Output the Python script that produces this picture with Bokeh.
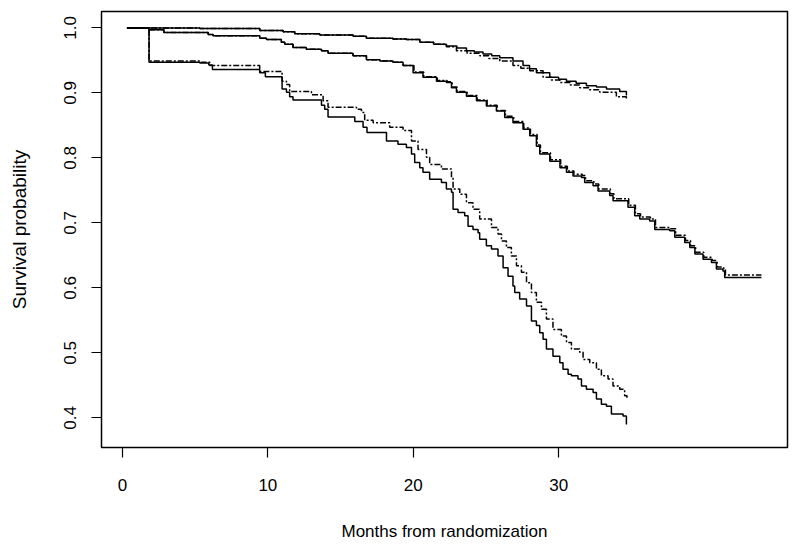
from bokeh.plotting import figure
from bokeh.models import Range1d, FixedTicker, NumeralTickFormatter
from bokeh.embed import file_html
from bokeh.resources import INLINE

# ---- data (months, survival probability) : step points ----
top_solid_t = [0.31, 5.32, 9.44, 11.05, 11.85, 13.57, 15.86, 16.78, 18.6, 19.53, 20.45, 21.4, 22.28, 23.0, 23.66, 24.2, 24.80, 25.4, 25.95, 26.86, 27.55, 28.0, 28.47, 29.39, 30.0, 30.54, 31.2, 31.91, 32.6, 33.29, 34.2, 34.66]
top_solid_s = [1.000, 0.999, 0.996, 0.994, 0.991, 0.989, 0.987, 0.984, 0.983, 0.982, 0.978, 0.975, 0.972, 0.969, 0.965, 0.963, 0.960, 0.957, 0.954, 0.949, 0.942, 0.937, 0.931, 0.924, 0.921, 0.918, 0.915, 0.911, 0.909, 0.906, 0.902, 0.896]

top_dash_t = [0.31, 5.32, 9.44, 11.05, 11.85, 13.57, 15.86, 16.78, 18.6, 19.53, 20.45, 21.4, 22.28, 22.97, 23.7, 24.57, 25.2, 25.95, 26.86, 27.4, 28.01, 28.93, 29.5, 30.08, 30.8, 31.45, 32.1, 32.83, 33.97, 34.66]
top_dash_s = [1.000, 0.999, 0.996, 0.994, 0.991, 0.989, 0.987, 0.984, 0.983, 0.982, 0.978, 0.975, 0.971, 0.965, 0.961, 0.957, 0.953, 0.949, 0.942, 0.938, 0.934, 0.924, 0.920, 0.916, 0.912, 0.908, 0.905, 0.901, 0.894, 0.889]

mid_solid_t = [0.31, 1.83, 2.85, 5.9, 6.23, 9.44, 9.9, 10.93, 11.16, 11.73, 12.65, 13.69, 14.14, 15.86, 16.78, 17.7, 18.61, 19.3, 19.99, 20.67, 21.6, 22.28, 22.63, 22.97, 23.66, 24.35, 25.03, 25.72, 26.29, 26.86, 27.55, 28.01, 28.47, 28.7, 29.39, 30.09, 30.54, 30.99, 31.57, 31.79, 32.37, 32.71, 33.51, 33.74, 34.77, 35.23, 35.58, 36.26, 36.61, 37.64, 37.99, 38.67, 39.02, 39.37, 39.93, 40.51, 40.85, 41.3, 41.42, 43.95]
mid_solid_s = [1.000, 0.997, 0.993, 0.990, 0.988, 0.984, 0.982, 0.978, 0.975, 0.970, 0.967, 0.965, 0.961, 0.957, 0.951, 0.949, 0.947, 0.942, 0.931, 0.924, 0.918, 0.916, 0.908, 0.901, 0.895, 0.888, 0.880, 0.872, 0.862, 0.854, 0.844, 0.834, 0.818, 0.806, 0.795, 0.785, 0.778, 0.772, 0.770, 0.762, 0.757, 0.749, 0.742, 0.734, 0.724, 0.711, 0.706, 0.703, 0.690, 0.688, 0.678, 0.670, 0.662, 0.652, 0.644, 0.639, 0.629, 0.626, 0.616, 0.616]

mid_dash_t = [0.31, 1.83, 2.85, 5.9, 6.23, 9.44, 9.9, 10.93, 11.16, 11.73, 12.65, 13.69, 14.14, 15.86, 16.78, 17.7, 18.61, 19.3, 20.05, 20.72, 21.65, 22.33, 22.68, 23.02, 23.71, 24.4, 25.08, 25.77, 26.34, 26.91, 27.6, 28.06, 28.52, 28.75, 29.44, 30.14, 30.6, 31.05, 31.62, 31.85, 32.42, 32.76, 33.56, 33.8, 34.82, 35.28, 35.63, 36.31, 36.66, 37.7, 38.05, 38.72, 39.07, 39.42, 39.98, 40.56, 40.9, 41.35, 41.47, 43.95]
mid_dash_s = [1.000, 0.997, 0.993, 0.990, 0.988, 0.984, 0.982, 0.978, 0.975, 0.970, 0.967, 0.965, 0.961, 0.957, 0.951, 0.949, 0.947, 0.942, 0.932, 0.925, 0.919, 0.917, 0.909, 0.902, 0.896, 0.889, 0.881, 0.873, 0.864, 0.856, 0.846, 0.836, 0.820, 0.808, 0.797, 0.787, 0.780, 0.775, 0.773, 0.765, 0.760, 0.752, 0.745, 0.737, 0.727, 0.714, 0.709, 0.706, 0.693, 0.691, 0.681, 0.673, 0.665, 0.655, 0.647, 0.642, 0.632, 0.630, 0.620, 0.620]

bot_solid_t = [0.31, 1.83, 5.32, 5.94, 6.19, 9.44, 9.83, 10.98, 11.28, 11.5, 11.73, 13.69, 13.91, 14.14, 15.98, 16.55, 16.82, 18.16, 18.95, 19.53, 19.88, 20.10, 20.45, 20.67, 21.13, 21.94, 22.28, 22.63, 22.74, 23.08, 23.54, 23.77, 24.11, 24.46, 24.57, 25.03, 25.38, 25.83, 26.18, 26.52, 26.86, 26.98, 27.32, 27.79, 28.13, 28.47, 28.70, 28.93, 29.16, 29.61, 30.08, 30.30, 30.65, 30.88, 31.33, 31.57, 31.91, 32.37, 32.60, 32.94, 33.29, 33.63, 34.43, 34.66]
bot_solid_s = [1.000, 0.947, 0.946, 0.943, 0.936, 0.931, 0.925, 0.906, 0.901, 0.894, 0.889, 0.881, 0.875, 0.863, 0.856, 0.847, 0.839, 0.826, 0.821, 0.816, 0.806, 0.793, 0.785, 0.778, 0.767, 0.762, 0.752, 0.747, 0.721, 0.716, 0.711, 0.695, 0.690, 0.685, 0.675, 0.665, 0.660, 0.649, 0.631, 0.618, 0.603, 0.593, 0.583, 0.572, 0.549, 0.542, 0.531, 0.521, 0.506, 0.495, 0.485, 0.475, 0.467, 0.465, 0.460, 0.449, 0.444, 0.439, 0.429, 0.421, 0.418, 0.406, 0.403, 0.390]

bot_dash_t = [0.31, 1.83, 5.43, 6.0, 9.44, 10.98, 11.28, 11.5, 13.0, 13.8, 14.14, 16.09, 16.44, 16.66, 17.24, 18.38, 19.3, 19.88, 20.33, 20.91, 21.13, 21.94, 22.63, 22.74, 23.2, 23.66, 24.11, 24.57, 25.38, 25.83, 26.07, 26.41, 26.75, 27.1, 27.44, 27.79, 28.13, 28.47, 28.82, 29.16, 29.61, 30.19, 30.54, 30.88, 31.45, 31.68, 32.14, 32.6, 32.94, 33.4, 33.74, 34.2, 34.54, 34.7]
bot_dash_s = [1.000, 0.949, 0.947, 0.942, 0.933, 0.918, 0.913, 0.902, 0.897, 0.888, 0.878, 0.875, 0.870, 0.858, 0.854, 0.847, 0.842, 0.826, 0.813, 0.801, 0.790, 0.783, 0.770, 0.752, 0.744, 0.731, 0.721, 0.706, 0.693, 0.683, 0.672, 0.662, 0.649, 0.634, 0.624, 0.608, 0.593, 0.578, 0.567, 0.552, 0.536, 0.526, 0.516, 0.506, 0.501, 0.490, 0.485, 0.475, 0.465, 0.460, 0.449, 0.444, 0.434, 0.428]

x_ticks = [0, 10, 20, 30]
y_ticks = [0.4, 0.5, 0.6, 0.7, 0.8, 0.9, 1.0]

FONT = "Liberation Sans"

p = figure(width=791, height=543, output_backend="svg", toolbar_location=None,
           x_range=Range1d(-1.44, 45.74), y_range=Range1d(0.3545, 1.0252),
           min_border_left=101, min_border_right=4, min_border_top=11, min_border_bottom=96,
           x_axis_label="Months from randomization", y_axis_label="Survival probability")
p.grid.visible = False
p.outline_line_color = "black"
p.outline_line_width = 1.5
p.background_fill_color = "white"
p.border_fill_color = "white"

for ax in (p.xaxis[0], p.yaxis[0]):
    ax.axis_line_color = None
    ax.minor_tick_line_color = None
    ax.major_tick_in = 0
    ax.major_tick_line_color = "black"
    ax.major_tick_line_width = 1.2
    ax.major_label_text_font = FONT
    ax.major_label_text_font_size = "17px"
    ax.major_label_text_color = "black"
    ax.axis_label_text_font = FONT
    ax.axis_label_text_font_style = "normal"
    ax.axis_label_text_color = "black"

p.xaxis[0].axis_label_text_font_size = "17px"
p.yaxis[0].axis_label_text_font_size = "19px"

p.xaxis[0].ticker = FixedTicker(ticks=x_ticks)
p.xaxis[0].major_tick_out = 10
p.xaxis[0].major_label_standoff = 21
p.xaxis[0].axis_label_standoff = 28

p.yaxis[0].ticker = FixedTicker(ticks=y_ticks)
p.yaxis[0].formatter = NumeralTickFormatter(format="0.0")
p.yaxis[0].major_tick_out = 10
p.yaxis[0].major_label_orientation = "vertical"
p.yaxis[0].major_label_standoff = 15
p.yaxis[0].axis_label_standoff = 32

dash = "6 2 2 2"
curves = [
    (top_solid_t, top_solid_s, "solid"),
    (top_dash_t, top_dash_s, dash),
    (mid_solid_t, mid_solid_s, "solid"),
    (mid_dash_t, mid_dash_s, dash),
    (bot_solid_t, bot_solid_s, "solid"),
    (bot_dash_t, bot_dash_s, dash),
]
for t, s, d in curves:
    p.step(x=t, y=s, mode="after", line_color="black", line_width=1.5, line_dash=d)

open("out.html", "w").write(file_html(p, INLINE))
